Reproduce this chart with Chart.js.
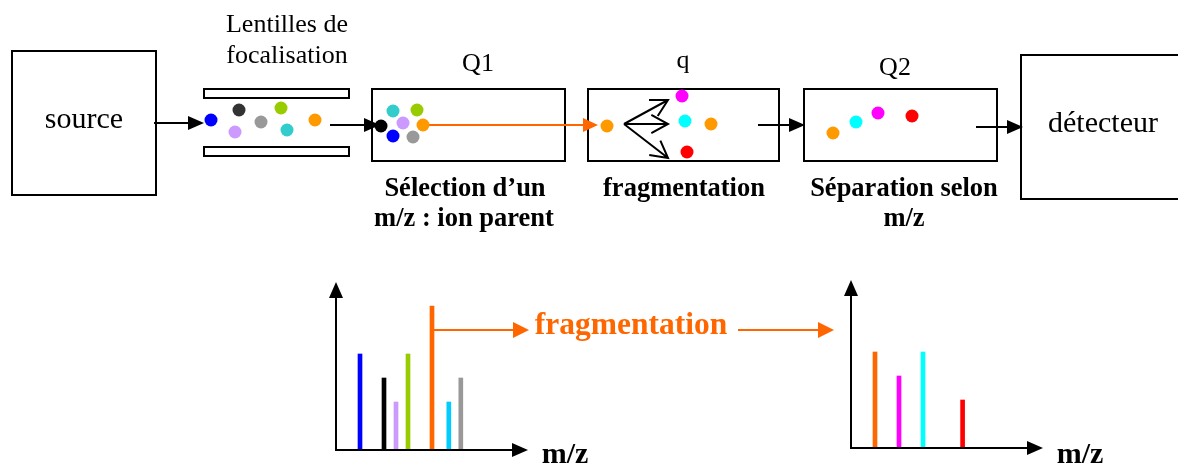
<!DOCTYPE html>
<html lang="fr">
<head>
<meta charset="utf-8">
<script src="https://cdn.jsdelivr.net/npm/chart.js@4.4.1/dist/chart.umd.min.js"></script>
<style>
  html, body { margin: 0; padding: 0; background: #fff; }
  #stage { position: relative; width: 1178px; height: 465px; overflow: hidden; }
  canvas { position: absolute; }
  .lbl { position: absolute; white-space: nowrap; line-height: 1; color: #000;
         font-family: 'Liberation Serif', 'Times New Roman', serif; transform: translateX(-50%); }
</style>
</head>
<body>
<div id="stage">
  <canvas id="specParent" width="230" height="190" style="left:316px;top:270px"></canvas>
  <canvas id="specFrag" width="230" height="190" style="left:831px;top:268px"></canvas>
  <canvas id="diagram" width="1178" height="465" style="left:0;top:0"></canvas>
</div>
<script>
// ions in the focusing lenses, Q1, collision cell q, Q2 (diagram units = px)
const lensDotX = [211, 239, 235, 261, 281, 287, 315];
const lensDotY = [120, 110, 132, 122, 108, 130, 120];
const q1DotX = [381, 393, 417, 403, 423, 393, 413];
const q1DotY = [126, 111, 110, 123, 125, 136, 137];
const qDotX = [607, 682, 685, 711, 687];
const qDotY = [126, 96, 121, 124, 152];
const q2DotX = [833, 856, 878, 912];
const q2DotY = [133, 122, 113, 116];

// spectra: m/z position and intensity of each peak
const parentMz = [2, 4, 5, 6, 8, 9.4, 10.4];
const parentIntensity = [4, 3, 2, 4, 6, 2, 3];
const fragMz = [2, 4, 6, 9.3];
const fragIntensity = [4, 3, 4, 2];

const C = {
    blue: '#0000ff', dark: '#333333', black: '#000000', lilac: '#cc99ff', grey: '#999999',
    green: '#99cc00', teal: '#33cccc', orange: '#ff9900', deepOrange: '#ff6600',
    cyan: '#00ffff', sky: '#00ccff', magenta: '#ff00ff', red: '#ff0000',
};
const lensDotColor = [C.blue, C.dark, C.lilac, C.grey, C.green, C.teal, C.orange];
const q1DotColor = [C.black, C.teal, C.green, C.lilac, C.orange, C.blue, C.grey];
const qDotColor = [C.orange, C.magenta, C.cyan, C.orange, C.red];
const q2DotColor = [C.orange, C.cyan, C.magenta, C.red];
const parentColor = [C.blue, C.black, C.lilac, C.green, C.deepOrange, C.sky, C.grey];
const fragColor = [C.deepOrange, C.magenta, C.cyan, C.red];

const pts = (xs, ys) => xs.map((x, i) => ({ x, y: ys[i] }));

function head(ctx, x1, y1, x2, y2, len, half, color) {
    const a = Math.atan2(y2 - y1, x2 - x1);
    ctx.save();
    ctx.translate(x2, y2);
    ctx.rotate(a);
    ctx.fillStyle = color;
    ctx.beginPath();
    ctx.moveTo(0, 0);
    ctx.lineTo(-len, -half);
    ctx.lineTo(-len, half);
    ctx.closePath();
    ctx.fill();
    ctx.restore();
}

function arrow(ctx, x1, y1, x2, y2, color, len = 16, half = 7) {
    const a = Math.atan2(y2 - y1, x2 - x1);
    ctx.strokeStyle = color;
    ctx.lineWidth = 2;
    ctx.beginPath();
    ctx.moveTo(x1, y1);
    ctx.lineTo(x2 - Math.cos(a) * (len - 2), y2 - Math.sin(a) * (len - 2));
    ctx.stroke();
    head(ctx, x1, y1, x2, y2, len, half, color);
}

function openArrow(ctx, x1, y1, x2, y2) {
    const a = Math.atan2(y2 - y1, x2 - x1);
    const l = 19, s = 0.5;
    ctx.strokeStyle = '#000';
    ctx.lineWidth = 2;
    ctx.beginPath();
    ctx.moveTo(x1, y1);
    ctx.lineTo(x2, y2);
    ctx.moveTo(x2 - l * Math.cos(a - s), y2 - l * Math.sin(a - s));
    ctx.lineTo(x2, y2);
    ctx.lineTo(x2 - l * Math.cos(a + s), y2 - l * Math.sin(a + s));
    ctx.stroke();
}

const diagramFrame = {
    id: 'diagramFrame',
    beforeDatasetsDraw(chart) {
        const { ctx, scales: { x, y } } = chart;
        const X = v => x.getPixelForValue(v), Y = v => y.getPixelForValue(v);
        const box = (x1, y1, x2, y2) => {
            ctx.fillStyle = '#fff';
            ctx.fillRect(X(x1), Y(y1), X(x2) - X(x1), Y(y2) - Y(y1));
            ctx.strokeRect(X(x1), Y(y1), X(x2) - X(x1), Y(y2) - Y(y1));
        };
        ctx.save();
        ctx.strokeStyle = '#000';
        ctx.lineWidth = 2;
        box(12, 51, 156, 195);        // source
        box(204, 89, 349, 98);        // lens plates
        box(204, 147, 349, 156);
        box(372, 89, 565, 161);       // Q1
        box(588, 89, 779, 161);       // q
        box(804, 89, 997, 161);       // Q2
        box(1021, 55, 1190, 199);     // detector

        arrow(ctx, X(154), Y(123), X(204), Y(123), '#000');
        arrow(ctx, X(330), Y(125), X(380), Y(125), '#000');
        arrow(ctx, X(423), Y(125), X(598), Y(125), C.deepOrange, 15, 7);
        arrow(ctx, X(758), Y(125), X(805), Y(125), '#000');
        arrow(ctx, X(976), Y(127), X(1023), Y(127), '#000');

        openArrow(ctx, X(624), Y(124), X(668), Y(100));
        openArrow(ctx, X(624), Y(124), X(668), Y(124));
        openArrow(ctx, X(624), Y(124), X(668), Y(158));

        // fragmentation arrows between the spectra
        arrow(ctx, X(433), Y(330), X(529), Y(330), C.deepOrange, 16, 8);
        arrow(ctx, X(738), Y(330), X(834), Y(330), C.deepOrange, 16, 8);
        ctx.restore();
    }
};

const dotSet = (xs, ys, colors) => ({
    data: pts(xs, ys),
    backgroundColor: colors,
    borderWidth: 0,
    pointRadius: 6.5,
    pointHoverRadius: 6.5,
});

new Chart(document.getElementById('diagram'), {
    type: 'scatter',
    data: {
        datasets: [
            dotSet(lensDotX, lensDotY, lensDotColor),
            dotSet(q1DotX, q1DotY, q1DotColor),
            dotSet(qDotX, qDotY, qDotColor),
            dotSet(q2DotX, q2DotY, q2DotColor),
        ],
    },
    options: {
        responsive: false,
        animation: false,
        layout: { padding: 0, autoPadding: false },
        plugins: { legend: { display: false }, tooltip: { enabled: false } },
        events: [],
        scales: {
            x: { type: 'linear', min: 0, max: 1178, display: false },
            y: { type: 'linear', min: 0, max: 465, reverse: true, display: false },
        },
    },
    plugins: [diagramFrame],
});

const spectrumAxes = {
    id: 'spectrumAxes',
    afterDraw(chart) {
        const { ctx, chartArea: a } = chart;
        ctx.save();
        ctx.strokeStyle = '#000';
        ctx.lineWidth = 2;
        ctx.beginPath();
        ctx.moveTo(a.left, a.top + 12);
        ctx.lineTo(a.left, a.bottom);
        ctx.lineTo(a.right - 12, a.bottom);
        ctx.stroke();
        head(ctx, a.left, a.bottom, a.left, a.top, 16, 7, '#000');
        head(ctx, a.left, a.bottom, a.right, a.bottom, 16, 7, '#000');
        ctx.restore();
    }
};

function spectrum(id, mz, intensity, colors) {
    new Chart(document.getElementById(id), {
        type: 'bar',
        data: {
            datasets: [{
                data: mz.map((m, i) => ({ x: m, y: intensity[i] })),
                backgroundColor: colors,
                borderWidth: 0,
                barThickness: 4,
            }],
        },
        options: {
            responsive: false,
            animation: false,
            events: [],
            layout: { padding: { left: 20, top: 12, right: 18, bottom: 10 }, autoPadding: false },
            plugins: { legend: { display: false }, tooltip: { enabled: false } },
            scales: {
                x: { type: 'linear', min: 0, max: 16, offset: false, display: false },
                y: { min: 0, max: 7, display: false },
            },
        },
        plugins: [spectrumAxes],
    });
}

spectrum('specParent', parentMz, parentIntensity, parentColor);
spectrum('specFrag', fragMz, fragIntensity, fragColor);

// text labels
const labels = [
    ['source', 84, 128, 30, false],
    ['Lentilles de', 287, 33, 26, false],
    ['focalisation', 287, 64, 26, false],
    ['Q1', 478, 72, 26, false],
    ['q', 683, 69, 26, false],
    ['Q2', 895, 76, 26, false],
    ['détecteur', 1103, 132, 30, false],
    ['Sélection d\u2019un', 465, 196, 26.5, true],
    ['m/z : ion parent', 464, 226, 26.5, true],
    ['fragmentation', 684, 196, 26.5, true],
    ['Séparation selon', 904, 196, 26.5, true],
    ['m/z', 904, 226, 26.5, true],
    ['m/z', 565, 463, 30, true],
    ['m/z', 1080, 463, 30, true],
];
const stage = document.getElementById('stage');
labels.forEach(([text, cx, base, size, bold]) => {
    const d = document.createElement('div');
    d.className = 'lbl';
    d.textContent = text;
    d.style.left = cx + 'px';
    d.style.top = (base - 0.84 * size) + 'px';
    d.style.fontSize = size + 'px';
    if (bold) d.style.fontWeight = 'bold';
    stage.appendChild(d);
});
const frag = document.createElement('div');
frag.className = 'lbl';
frag.textContent = 'fragmentation';
frag.style.cssText += 'left:631px;top:' + (334 - 0.84 * 31.5) + 'px;font-size:31.5px;font-weight:bold;color:' + C.deepOrange;
stage.appendChild(frag);
</script>
</body>
</html>
